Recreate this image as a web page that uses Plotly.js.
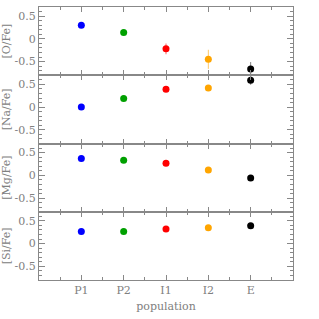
<!DOCTYPE html>
<html><head><meta charset="utf-8">
<script src="https://cdn.plot.ly/plotly-3.0.1.min.js"></script>
<style>html,body{margin:0;padding:0;background:#fff}#c{width:319px;height:319px}</style>
</head><body><div id="c"></div>
<script>
const populations = ["P1","P2","I1","I2","E"];
const popX = [1,2,3,4,5];
const popColors = ["#0000ff","#00a000","#ff0000","#ffa500","#000000"];
const errColors = ["rgba(0,0,255,0.3)","rgba(0,160,0,0.3)","rgba(255,0,0,0.3)","rgba(255,165,0,0.6)","rgba(0,0,0,0.5)"];
const errWidths = [2, 2, 2, 1, 1];
const panelTitles = ["[O/Fe]","[Na/Fe]","[Mg/Fe]","[Si/Fe]"];
const OFe = [0.30, 0.14, -0.22, -0.45, -0.66];
const OFeErr = [0.02, 0.03, 0.12, 0.21, 0.15];
const NaFe = [0.00, 0.19, 0.39, 0.42, 0.59];
const NaFeErr = [0.02, 0.02, 0.02, 0.03, 0.10];
const MgFe = [0.37, 0.33, 0.265, 0.12, -0.06];
const MgFeErr = [0.02, 0.02, 0.02, 0.02, 0.02];
const SiFe = [0.265, 0.265, 0.32, 0.35, 0.39];
const SiFeErr = [0.02, 0.02, 0.02, 0.02, 0.02];
const panelVals = [OFe, NaFe, MgFe, SiFe];
const panelErrs = [OFeErr, NaFeErr, MgFeErr, SiFeErr];

const axisGray = "#888";
const textGray = "#808080";
const fontFam = "DejaVu Serif, Liberation Serif, serif";
const fsize = 11;

const traces = [];
panelVals.forEach((vals, p) => {
  const xa = p === 0 ? "x" : "x" + (p + 1);
  const ya = p === 0 ? "y" : "y" + (p + 1);
  vals.forEach((v, i) => {
    traces.push({
      type: "scatter", mode: "markers",
      x: [popX[i]], y: [v], xaxis: xa, yaxis: ya,
      marker: {color: popColors[i], size: 7},
      error_y: {type: "data", array: [panelErrs[p][i]], visible: true, color: errColors[i], thickness: errWidths[i], width: 0},
      showlegend: false, cliponaxis: true, hoverinfo: "skip"
    });
  });
});

const layout = {
  width: 319, height: 319,
  margin: {l: 39, r: 26, t: 7, b: 39},
  paper_bgcolor: "#fff", plot_bgcolor: "#fff",
  font: {family: fontFam, color: textGray, size: fsize},
  showlegend: false
};
for (let p = 0; p < 4; p++) {
  const s = p === 0 ? "" : String(p + 1);
  const top = 1 - p * 0.25, bot = 1 - (p + 1) * 0.25;
  layout["xaxis" + s] = {
    domain: [0, 1], anchor: "y" + s, range: [0, 6],
    tickmode: "array", tickvals: popX, ticktext: populations,
    showticklabels: p === 3,
    ticks: "inside", ticklen: 5, tickcolor: axisGray, tickwidth: 1,
    minor: {ticks: "inside", dtick: 0.5, tick0: 0, ticklen: 3, tickcolor: axisGray},
    showline: true, linecolor: axisGray, linewidth: 1, mirror: "ticks",
    showgrid: false, zeroline: false,
    tickfont: {family: fontFam, color: textGray, size: fsize},
    title: p === 3 ? {text: "population", font: {family: fontFam, color: textGray, size: fsize}, standoff: 6} : {text: ""}
  };
  if (p > 0) layout["xaxis" + s].matches = "x";
  layout["yaxis" + s] = {
    domain: [bot, top], anchor: "x" + s, range: [-0.8, 0.7],
    tickmode: "array", tickvals: [-0.5, 0, 0.5], ticktext: ["-0.5", "0", "0.5"],
    ticks: "inside", ticklen: 6, tickcolor: axisGray, tickwidth: 1,
    minor: {ticks: "inside", dtick: 0.1, tick0: 0, ticklen: 3, tickcolor: axisGray},
    showline: true, linecolor: axisGray, linewidth: 1, mirror: "ticks",
    showgrid: false, zeroline: false,
    tickfont: {family: fontFam, color: textGray, size: fsize},
    title: {text: panelTitles[p], font: {family: fontFam, color: textGray, size: fsize}, standoff: 2}
  };
}
Plotly.newPlot("c", traces, layout, {displayModeBar: false, staticPlot: true});
</script>
</body></html>
